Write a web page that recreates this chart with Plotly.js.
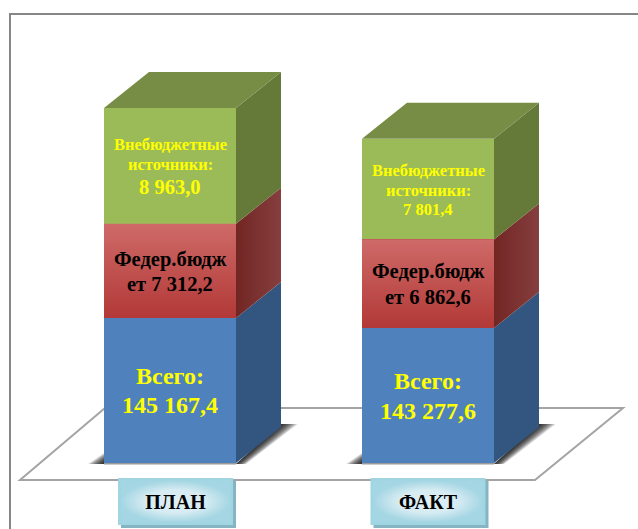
<!DOCTYPE html>
<html>
<head>
<meta charset="utf-8">
<script src="https://cdn.plot.ly/plotly-3.0.1.min.js"></script>
<style>html,body{margin:0;padding:0;background:#fff}#chart{width:638px;height:529px}</style>
</head>
<body>
<div id="chart"></div>
<script>
// ---- data ----
var categories = ['ПЛАН', 'ФАКТ'];
var barPositions = [0, 1];
var tickPositions = [0.0213, 1];
var extraBudget = [8963.0, 7801.4];   // Внебюджетные источники
var federalBudget = [7312.2, 6862.6]; // Федеральный бюджет
// The lower block sits on a broken axis: its drawn height
var totalDrawn = [11240, 10465];
var extraLabels = ['8 963,0', '7 801,4'];
var federalLabels = ['ет 7 312,2', 'ет 6 862,6'];
var totalLabels = ['145 167,4', '143 277,6'];

// ---- geometry of the projection ----
var W = 638, H = 529;
var baseY = 463, centerPx = 170, stepPx = 258;
var pxPerUnit = 0.0129;
var barWidth = 132 / stepPx;
var dx = 45 / stepPx, dy = 36 / pxPerUnit;
function xp(px) { return px / stepPx; }
function yp(px) { return px / pxPerUnit; }

var SERIF = '"Liberation Serif","Times New Roman",serif';
var traces = [];

function poly(xs, ys, color, grad) {
  var t = {type: 'scatter', mode: 'lines', x: xs.concat(xs[0]), y: ys.concat(ys[0]),
    fill: 'toself', line: {width: 0, color: color}, fillcolor: color,
    hoverinfo: 'skip', showlegend: false};
  if (grad) { t.fillgradient = grad; }
  traces.push(t);
}
function vgrad(a, b) { return {type: 'vertical', colorscale: [[0, a], [1, b]]}; }
function hgrad(a, b) { return {type: 'horizontal', colorscale: [[0, a], [1, b]]}; }

// front faces, through the library's stacked bars
function addBar(name, vals, color) {
  traces.push({type: 'bar', name: name, x: barPositions, y: vals, width: barWidth,
    marker: {color: color, line: {width: 0}}, showlegend: false, hoverinfo: 'skip'});
}
addBar('Всего', totalDrawn, '#4F81BD');
addBar('Федеральный бюджет', federalBudget, '#BF504D');
addBar('Внебюджетные источники', extraBudget, '#9BBB59');

// side, top faces and gradients, computed from the same values
barPositions.forEach(function (x, i) {
  var xl = x - barWidth / 2, xr = x + barWidth / 2;
  var y1 = totalDrawn[i], y2 = y1 + federalBudget[i], y3 = y2 + extraBudget[i];
  poly([xr, xr + dx, xr + dx, xr], [0, dy, y1 + dy, y1], '#335680');
  poly([xr, xr + dx, xr + dx, xr], [y1, y1 + dy, y2 + dy, y2], '#7A2F2D', hgrad('#722624', '#853F3E'));
  poly([xr, xr + dx, xr + dx, xr], [y2, y2 + dy, y3 + dy, y3], '#657A38');
  poly([xl, xr, xr + dx, xl + dx], [y3, y3, y3 + dy, y3 + dy], '#778C44');
  poly([xl, xr, xr, xl], [y1, y1, y2, y2], '#BF504D', vgrad('#B23937', '#CE6A68'));
});

// category boxes
tickPositions.forEach(function (t) {
  var c = t, hw = xp(57.5);
  var top = yp(baseY - 478), bot = yp(baseY - 525);
  var s = xp(3), sy = yp(3);
  poly([c - hw + s, c + hw + s, c + hw + s, c - hw + s], [top - sy, top - sy, bot - sy, bot - sy], '#86B4C2');
  poly([c - hw, c + hw, c + hw, c - hw], [top, top, bot, bot], '#A0D5E2');
  var b = xp(2.5), by = yp(2.5);
  poly([c - hw + b, c + hw - b, c + hw - b, c - hw + b], [top - by, top - by, bot + by, bot + by], '#DCEEF4',
    {type: 'radial', colorscale: [[0, '#E0F0F5'], [0.55, '#D6EBF2'], [1, '#A4D6E3']]});
});

// labels
var annotations = [];
function lab(i, center, shift, text, size, color) {
  annotations.push({x: barPositions[i], y: center, yshift: -shift, text: '<b>' + text + '</b>',
    showarrow: false, xanchor: 'center', yanchor: 'middle',
    font: {family: SERIF, size: size, color: color}});
}
var YEL = '#FFFF00', BLK = '#000000';
barPositions.forEach(function (x, i) {
  var y1 = totalDrawn[i], y2 = y1 + federalBudget[i], y3 = y2 + extraBudget[i];
  var cGreen = (y2 + y3) / 2, cRed = (y1 + y2) / 2, cBlue = y1 / 2;
  if (i === 0) {
    lab(i, cGreen, -21, 'Внебюджетные', 16.5, YEL);
    lab(i, cGreen, -1, 'источники:', 16.5, YEL);
    lab(i, cGreen, 21, extraLabels[i], 20.5, YEL);
    lab(i, cRed, -11, 'Федер.бюдж', 20.5, BLK);
    lab(i, cRed, 13, federalLabels[i], 20.5, BLK);
    lab(i, cBlue, -15, 'Всего:', 24, YEL);
    lab(i, cBlue, 14, totalLabels[i], 24, YEL);
  } else {
    lab(i, cGreen, -18.5, 'Внебюджетные', 16.5, YEL);
    lab(i, cGreen, 1.5, 'источники:', 16.5, YEL);
    lab(i, cGreen, 20.5, extraLabels[i], 16.5, YEL);
    lab(i, cRed, -12, 'Федер.бюдж', 20.5, BLK);
    lab(i, cRed, 13, federalLabels[i], 20.5, BLK);
    lab(i, cBlue, -15, 'Всего:', 24, YEL);
    lab(i, cBlue, 15, totalLabels[i], 24, YEL);
  }
});

// decoration: frame, floor, soft shadows
function P(px, py) { return (px / W) + ' ' + (1 - py / H); }
var shapes = [
  {type: 'path', xref: 'paper', yref: 'paper', layer: 'below',
   path: 'M' + P(10, 529) + ' L' + P(10, 14) + ' L' + P(638, 14),
   line: {color: '#868686', width: 2}},
  {type: 'path', xref: 'paper', yref: 'paper', layer: 'below',
   path: 'M' + P(20, 480) + ' L' + P(535, 480) + ' L' + P(623, 408) + ' L' + P(105, 408) + ' Z',
   line: {color: '#A4A4A4', width: 2}, fillcolor: '#FFFFFF'}
];
barPositions.forEach(function (x) {
  var xl = x - barWidth / 2, xr = x + barWidth / 2;
  for (var k = 1; k <= 12; k++) {
    var g = k * 1.4;   // outward growth of each soft layer
    var d = 'M' + (xr) + ' ' + yp(-1) +
      ' L' + (xr + xp(g * 0.6)) + ' ' + yp(-1) +
      ' L' + (xr + dx + xp(g * 1.0)) + ' ' + yp(39) +
      ' L' + (xr + dx) + ' ' + yp(39) + ' Z';
    var e = 'M' + xl + ' ' + yp(-1) +
      ' L' + (xl - xp(g * 0.95)) + ' ' + yp(-1) +
      ' L' + xl + ' ' + yp(g * 0.6) + ' Z';
    var o = 0.12;
    shapes.push({type: 'path', xref: 'x', yref: 'y', layer: 'below', path: d, fillcolor: '#000', opacity: o, line: {width: 0}});
    shapes.push({type: 'path', xref: 'x', yref: 'y', layer: 'below', path: e, fillcolor: '#000', opacity: o, line: {width: 0}});
  }
  shapes.push({type: 'line', xref: 'x', yref: 'y', layer: 'below', x0: xl, x1: xr, y0: yp(-0.7), y1: yp(-0.7), line: {color: '#9A9A9A', width: 1.5}});
});

var layout = {
  width: W, height: H,
  margin: {l: 0, r: 0, t: 0, b: 0, pad: 0},
  paper_bgcolor: '#FFFFFF', plot_bgcolor: 'rgba(0,0,0,0)',
  barmode: 'stack', showlegend: false,
  xaxis: {range: [-centerPx / stepPx, (W - centerPx) / stepPx], type: 'linear',
    tickmode: 'array', tickvals: tickPositions,
    ticktext: categories.map(function (c) { return '<b>' + c + '</b>'; }),
    tickfont: {family: SERIF, size: 20, color: '#000'}, ticks: '', ticklen: 0,
    showgrid: false, zeroline: false, showline: false,
    anchor: 'free', position: (H - 488) / H, fixedrange: true},
  yaxis: {range: [-(H - baseY) / pxPerUnit, baseY / pxPerUnit], showticklabels: false,
    showgrid: false, zeroline: false, showline: false, ticks: '', fixedrange: true},
  shapes: shapes,
  annotations: annotations
};
Plotly.newPlot('chart', traces, layout, {displayModeBar: false, staticPlot: true});
</script>
</body>
</html>
